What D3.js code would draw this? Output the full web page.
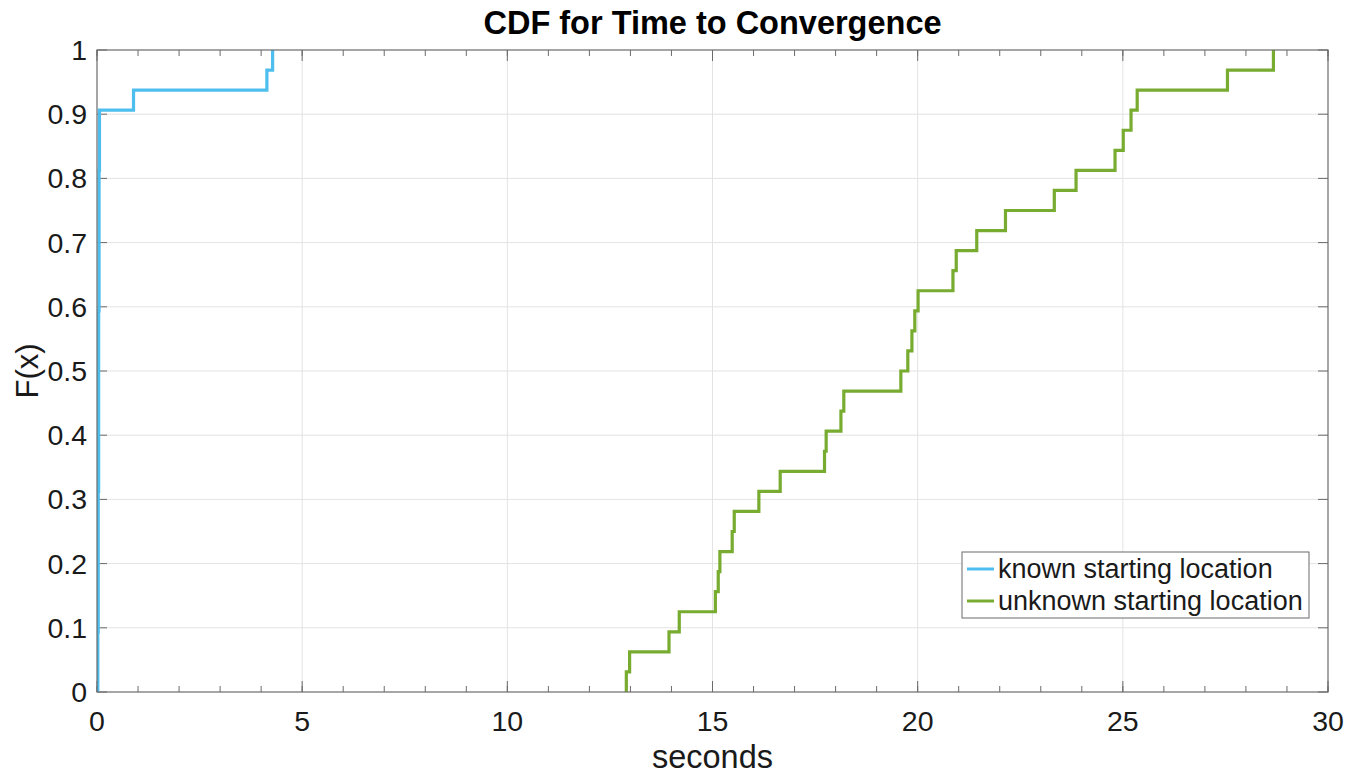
<!DOCTYPE html>
<html>
<head>
<meta charset="utf-8">
<script src="https://cdn.jsdelivr.net/npm/d3@7"></script>
<style>
  body { margin: 0; background: #fff; }
  text { font-family: "Liberation Sans", Arial, Helvetica, sans-serif; fill: #1a1a1a; }
</style>
</head>
<body>
<div id="chart"></div>
<script>
// samples (seconds)
var knownTimes = [0.02, 0.02, 0.02, 0.03, 0.03, 0.03, 0.03, 0.03, 0.03, 0.03,
                  0.04, 0.04, 0.04, 0.04, 0.04, 0.04, 0.04, 0.04, 0.04, 0.05,
                  0.05, 0.05, 0.05, 0.05, 0.05, 0.05, 0.06, 0.06, 0.06,
                  0.89, 4.14, 4.28];
var unknownTimes = [12.90, 12.98, 13.94, 14.19, 15.07, 15.14, 15.18, 15.48,
                    15.53, 16.13, 16.65, 17.73, 17.77, 18.13, 18.20, 19.59,
                    19.76, 19.86, 19.93, 20.01, 20.86, 20.94, 21.44, 22.14,
                    23.33, 23.86, 24.81, 25.01, 25.20, 25.35, 27.55, 28.67];
var seriesNames = ["known starting location", "unknown starting location"];
var seriesColors = ["#4DBEEE", "#77AC30"];
var xTicks = [0, 5, 10, 15, 20, 25, 30];
var xMinorTicks = d3.range(0, 31, 1);
var yTicks = [0, 0.1, 0.2, 0.3, 0.4, 0.5, 0.6, 0.7, 0.8, 0.9, 1];
var yTickLabels = ["0", "0.1", "0.2", "0.3", "0.4", "0.5", "0.6", "0.7", "0.8", "0.9", "1"];

var W = 1366, H = 779;
var margin = {top: 50, right: 38, bottom: 87, left: 97},
    width = W - margin.left - margin.right,
    height = H - margin.top - margin.bottom;

var svg = d3.select("#chart").append("svg")
    .attr("width", W)
    .attr("height", H);

var g = svg.append("g")
    .attr("transform", "translate(" + margin.left + "," + margin.top + ")");

var x = d3.scaleLinear().domain([0, 30]).range([0, width]);
var y = d3.scaleLinear().domain([0, 1]).range([height, 0]);

// grid
g.append("g").selectAll("line")
    .data(xTicks.slice(1, -1))
    .enter().append("line")
    .attr("x1", function(d) { return x(d); })
    .attr("x2", function(d) { return x(d); })
    .attr("y1", 0).attr("y2", height)
    .attr("stroke", "#e3e3e3").attr("stroke-width", 1);
g.append("g").selectAll("line")
    .data(yTicks.slice(1, -1))
    .enter().append("line")
    .attr("y1", function(d) { return y(d); })
    .attr("y2", function(d) { return y(d); })
    .attr("x1", 0).attr("x2", width)
    .attr("stroke", "#e3e3e3").attr("stroke-width", 1);

// ticks, pointing inward on all four sides
var tickColor = "#6b6b6b";
function xTickMarks(values, len, yPos, dir) {
    g.append("g").selectAll("line")
        .data(values)
        .enter().append("line")
        .attr("x1", function(d) { return x(d); })
        .attr("x2", function(d) { return x(d); })
        .attr("y1", yPos).attr("y2", yPos + dir * len)
        .attr("stroke", tickColor).attr("stroke-width", 1);
}
xTickMarks(xMinorTicks, 6, height, -1);
xTickMarks(xTicks, 11, height, -1);
xTickMarks(xMinorTicks, 6, 0, 1);
xTickMarks(xTicks, 11, 0, 1);

function yTickMarks(xPos, dir) {
    g.append("g").selectAll("line")
        .data(yTicks)
        .enter().append("line")
        .attr("y1", function(d) { return y(d); })
        .attr("y2", function(d) { return y(d); })
        .attr("x1", xPos).attr("x2", xPos + dir * 10)
        .attr("stroke", tickColor).attr("stroke-width", 1);
}
yTickMarks(0, 1);
yTickMarks(width, -1);

// tick labels
g.append("g").selectAll("text")
    .data(xTicks)
    .enter().append("text")
    .attr("x", function(d) { return x(d); })
    .attr("y", height + 39)
    .attr("text-anchor", "middle")
    .style("font-size", "28.5px")
    .text(function(d) { return d; });
g.append("g").selectAll("text")
    .data(yTicks)
    .enter().append("text")
    .attr("x", -10)
    .attr("y", function(d) { return y(d) + 10; })
    .attr("text-anchor", "end")
    .style("font-size", "28.5px")
    .text(function(d, i) { return yTickLabels[i]; });

// CDF stairs
g.append("clipPath").attr("id", "clip")
    .append("rect").attr("width", width).attr("height", height);

var line = d3.line()
    .x(function(d) { return x(d[0]); })
    .y(function(d) { return y(d[1]); })
    .curve(d3.curveStepAfter);

function cdfPoints(values) {
    var s = values.slice().sort(d3.ascending);
    var n = s.length;
    var pts = [[s[0], 0]];
    s.forEach(function(v, i) { pts.push([v, (i + 1) / n]); });
    return pts;
}

[knownTimes, unknownTimes].forEach(function(vals, i) {
    g.append("path")
        .attr("clip-path", "url(#clip)")
        .attr("d", line(cdfPoints(vals)))
        .attr("fill", "none")
        .attr("stroke", seriesColors[i])
        .attr("stroke-width", 3.2);
});

// axes box
g.append("rect")
    .attr("width", width).attr("height", height)
    .attr("fill", "none")
    .attr("stroke", "#6b6b6b").attr("stroke-width", 1.2);

// legend
var lg = g.append("g").attr("transform", "translate(" + (962 - margin.left) + "," + (552 - margin.top) + ")");
lg.append("rect")
    .attr("width", 347).attr("height", 66)
    .attr("fill", "#fff")
    .attr("stroke", "#6b6b6b").attr("stroke-width", 1);
seriesNames.forEach(function(name, i) {
    var cy = 17 + i * 32;
    lg.append("line")
        .attr("x1", 5).attr("x2", 32)
        .attr("y1", cy).attr("y2", cy)
        .attr("stroke", seriesColors[i]).attr("stroke-width", 3);
    lg.append("text")
        .attr("x", 36).attr("y", cy + 9)
        .style("font-size", "27px")
        .text(name);
});

// titles
svg.append("text")
    .attr("x", margin.left + width / 2).attr("y", 34)
    .attr("text-anchor", "middle")
    .style("font-size", "32.5px").style("font-weight", "bold")
    .style("fill", "#000")
    .text("CDF for Time to Convergence");
svg.append("text")
    .attr("x", margin.left + width / 2).attr("y", 768)
    .attr("text-anchor", "middle")
    .style("font-size", "32.5px")
    .text("seconds");
svg.append("text")
    .attr("transform", "translate(38," + (margin.top + height / 2) + ") rotate(-90)")
    .attr("text-anchor", "middle")
    .style("font-size", "31px")
    .text("F(x)");
</script>
</body>
</html>
